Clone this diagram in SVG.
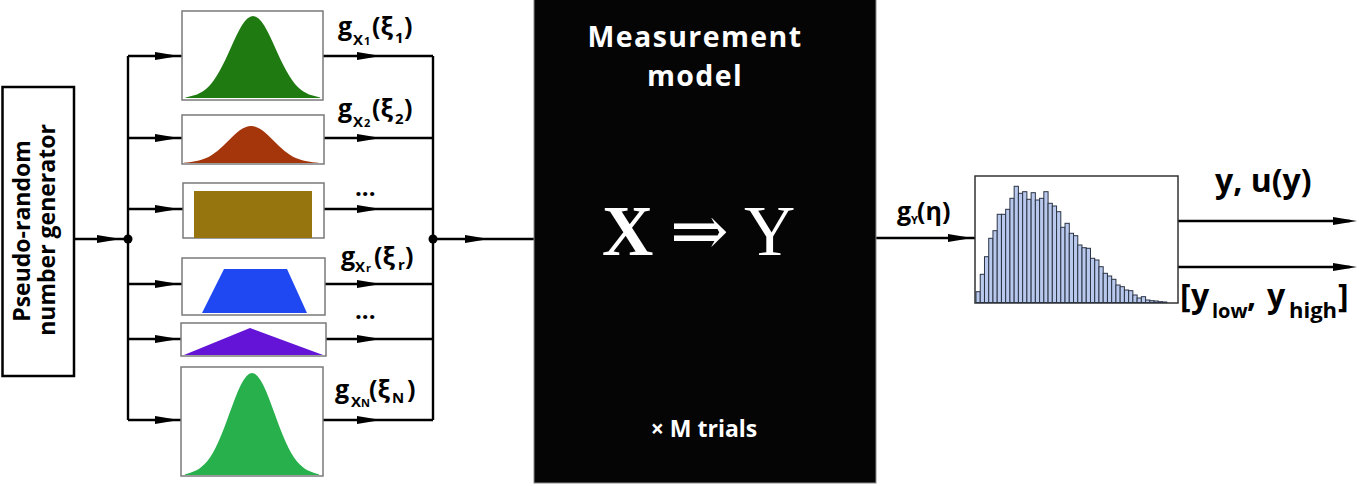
<svg xmlns="http://www.w3.org/2000/svg" xmlns:xlink="http://www.w3.org/1999/xlink" width="1359" height="486" viewBox="0 0 1359 486">
<style>
.ln{stroke:#000;stroke-width:2.4;fill:none}
.box{fill:#fff;stroke:#7a7a7a;stroke-width:1.5}
.t{font-family:"Open Sans","Liberation Sans",sans-serif;font-weight:bold;fill:#000}
.w{font-family:"Open Sans","Liberation Sans",sans-serif;font-weight:bold;fill:#fff}
.bar rect{fill:#b9c9ee;stroke:#2b3444;stroke-width:1}
</style>
<defs>
<path id="ah" d="M0,0 L-24,-4 L-24,4 Z" fill="#000"/>
<path id="bell" d="M-60,0 L-60,-0.6 L-55,-2.3 L-50,-4.4 L-47.5,-6 L-45,-8 L-42.5,-10.5 L-40,-13.5 L-37.5,-17.2 L-35,-21.6 L-32.5,-26.7 L-30,-32.5 L-27.5,-38.9 L-25,-45.8 L-22.5,-53.1 L-20,-60.7 L-17.5,-68.2 L-15,-75.5 L-12.5,-82.3 L-10,-88.3 L-7.5,-93.2 L-5,-96.9 L-2.5,-99.2 L0,-100 L2.5,-99.2 L5,-96.9 L7.5,-93.2 L10,-88.3 L12.5,-82.3 L15,-75.5 L17.5,-68.2 L20,-60.7 L22.5,-53.1 L25,-45.8 L27.5,-38.9 L30,-32.5 L32.5,-26.7 L35,-21.6 L37.5,-17.2 L40,-13.5 L42.5,-10.5 L45,-8 L47.5,-6 L50,-4.4 L55,-2.3 L60,-0.6 L60,0 Z"/>
</defs>

<g id="connectors">
<path class="ln" d="M74,239 H128"/>
<path class="ln" d="M128,56 V420"/>
<path class="ln" d="M128,56 H182 M128,138 H182 M128,209 H183 M128,284 H182 M128,339 H181 M128,420 H181"/>
<path class="ln" d="M323,56 H433 M324,138 H433 M324,209 H433 M325,284 H433 M326,339 H433 M323,420 H433"/>
<path class="ln" d="M433,56 V420"/>
<path class="ln" d="M433,239 H534"/>
<path class="ln" d="M876,238 H975"/>
<path class="ln" d="M1178,221 H1350 M1178,267 H1350"/>
<circle cx="128" cy="239" r="4.5"/>
<circle cx="433" cy="239" r="4.5"/>
<use xlink:href="#ah" transform="translate(121,239)"/>
<use xlink:href="#ah" transform="translate(179,56)"/>
<use xlink:href="#ah" transform="translate(179,138)"/>
<use xlink:href="#ah" transform="translate(179,209)"/>
<use xlink:href="#ah" transform="translate(179,284)"/>
<use xlink:href="#ah" transform="translate(179,339)"/>
<use xlink:href="#ah" transform="translate(179,420)"/>
<use xlink:href="#ah" transform="translate(381,56)"/>
<use xlink:href="#ah" transform="translate(381,138)"/>
<use xlink:href="#ah" transform="translate(381,209)"/>
<use xlink:href="#ah" transform="translate(381,284)"/>
<use xlink:href="#ah" transform="translate(381,339)"/>
<use xlink:href="#ah" transform="translate(381,420)"/>
<use xlink:href="#ah" transform="translate(489,239)"/>
<use xlink:href="#ah" transform="translate(972,238)"/>
<use xlink:href="#ah" transform="translate(1357,221)"/>
<use xlink:href="#ah" transform="translate(1357,267)"/>
</g>

<g id="generator">
<rect x="2.5" y="87" width="71.5" height="289" fill="#fff" stroke="#000" stroke-width="2.5"/>
<text class="t" font-size="23" text-anchor="middle" transform="translate(30,231) rotate(-90)">Pseudo-random</text>
<text class="t" font-size="23" text-anchor="middle" transform="translate(55,230) rotate(-90)">number generator</text>
</g>

<g id="dist1">
<rect class="box" x="182" y="11" width="141" height="89"/>
<use xlink:href="#bell" fill="#207a12" transform="translate(253,98) scale(1.12,0.82)"/>
</g>
<g id="dist2">
<rect class="box" x="182" y="115" width="142" height="49"/>
<use xlink:href="#bell" fill="#a5360c" transform="translate(251,163) scale(1.12,0.37)"/>
</g>
<g id="dist3">
<rect class="box" x="183" y="183" width="141" height="55"/>
<rect x="194" y="191" width="118" height="47" fill="#96750f"/>
</g>
<g id="dist4">
<rect class="box" x="182" y="258" width="143" height="57"/>
<path d="M224,269 H287 L307,313 H202 Z" fill="#1f48f2"/>
</g>
<g id="dist5">
<rect class="box" x="181" y="323" width="145" height="33"/>
<path d="M250,328 L323,355 H184 Z" fill="#6314d6"/>
</g>
<g id="dist6">
<rect class="box" x="181" y="367" width="142" height="109"/>
<use xlink:href="#bell" fill="#27b04c" transform="translate(252,475) scale(1.12,1.02)"/>
</g>

<g id="labels">
<text class="t"><tspan x="338" y="35" font-size="25">g</tspan><tspan x="353" y="45" font-size="15">X</tspan><tspan x="364" y="45" font-size="11">1</tspan><tspan x="372" y="35" font-size="25">(ξ</tspan><tspan x="395" y="43" font-size="15">1</tspan><tspan x="404" y="35" font-size="25">)</tspan></text>
<text class="t"><tspan x="338" y="117" font-size="25">g</tspan><tspan x="353" y="127" font-size="15">X</tspan><tspan x="364" y="127" font-size="11">2</tspan><tspan x="372" y="117" font-size="25">(ξ</tspan><tspan x="395" y="124" font-size="15">2</tspan><tspan x="404" y="117" font-size="25">)</tspan></text>
<text class="t" font-size="24" x="355" y="196">...</text>
<text class="t"><tspan x="341" y="265" font-size="25">g</tspan><tspan x="355" y="272" font-size="15">X</tspan><tspan x="366" y="272" font-size="11">r</tspan><tspan x="374" y="265" font-size="25">(ξ</tspan><tspan x="398" y="270" font-size="15">r</tspan><tspan x="405" y="265" font-size="25">)</tspan></text>
<text class="t" font-size="24" x="355" y="319">...</text>
<text class="t"><tspan x="335" y="398" font-size="25">g</tspan><tspan x="351" y="407" font-size="15">X</tspan><tspan x="361" y="407" font-size="11">N</tspan><tspan x="369" y="398" font-size="25">(ξ</tspan><tspan x="392" y="403" font-size="15">N</tspan><tspan x="407" y="398" font-size="25">)</tspan></text>
</g>

<g id="model">
<rect x="534" y="-2" width="342" height="485" fill="#050505" stroke="#8a8a8a" stroke-width="1"/>
<text class="w" font-size="28.5" letter-spacing="1.4" text-anchor="middle" x="695" y="47">Measurement</text>
<text class="w" font-size="28.5" letter-spacing="1.4" text-anchor="middle" x="695" y="86">model</text>
<text font-family="'Liberation Serif',serif" font-weight="bold" font-size="71" fill="#fff" x="602" y="255">X</text>
<text font-family="'DejaVu Serif',serif" font-size="70" fill="#fff" x="670" y="255">⇒</text>
<text font-family="'Liberation Serif',serif" font-size="71" fill="#fff" x="744" y="255">Y</text>
<text class="w" font-size="23" text-anchor="middle" x="704" y="437">× M trials</text>
</g>

<g id="histogram">
<text class="t"><tspan x="897" y="220" font-size="25">g</tspan><tspan x="911" y="224" font-size="11">Y</tspan><tspan x="917" y="220" font-size="25">(η)</tspan></text>
<rect x="975" y="176" width="203" height="127" fill="#fff" stroke="#333" stroke-width="1.5"/>
<g class="bar">
<rect x="976" y="291.7" width="4.24" height="10.8"/>
<rect x="980.24" y="274.3" width="4.24" height="28.2"/>
<rect x="984.48" y="256.7" width="4.24" height="45.8"/>
<rect x="988.72" y="238.3" width="4.24" height="64.2"/>
<rect x="992.96" y="230.7" width="4.24" height="71.8"/>
<rect x="997.2" y="214.3" width="4.24" height="88.2"/>
<rect x="1001.44" y="214.3" width="4.24" height="88.2"/>
<rect x="1005.68" y="209.3" width="4.24" height="93.2"/>
<rect x="1009.92" y="198.3" width="4.24" height="104.2"/>
<rect x="1014.16" y="186.3" width="4.24" height="116.2"/>
<rect x="1018.4" y="193.3" width="4.24" height="109.2"/>
<rect x="1022.64" y="191.7" width="4.24" height="110.8"/>
<rect x="1026.88" y="199.3" width="4.24" height="103.2"/>
<rect x="1031.12" y="192.7" width="4.24" height="109.8"/>
<rect x="1035.36" y="200" width="4.24" height="102.5"/>
<rect x="1039.6" y="198.3" width="4.24" height="104.2"/>
<rect x="1043.84" y="191.7" width="4.24" height="110.8"/>
<rect x="1048.08" y="203.3" width="4.24" height="99.2"/>
<rect x="1052.32" y="206" width="4.24" height="96.5"/>
<rect x="1056.56" y="211.7" width="4.24" height="90.8"/>
<rect x="1060.8" y="227.3" width="4.24" height="75.2"/>
<rect x="1065.04" y="223.3" width="4.24" height="79.2"/>
<rect x="1069.28" y="233.3" width="4.24" height="69.2"/>
<rect x="1073.52" y="235.7" width="4.24" height="66.8"/>
<rect x="1077.76" y="245" width="4.24" height="57.5"/>
<rect x="1082" y="247.7" width="4.24" height="54.8"/>
<rect x="1086.24" y="248.3" width="4.24" height="54.2"/>
<rect x="1090.48" y="258.3" width="4.24" height="44.2"/>
<rect x="1094.72" y="260" width="4.24" height="42.5"/>
<rect x="1098.96" y="266.7" width="4.24" height="35.8"/>
<rect x="1103.2" y="273.3" width="4.24" height="29.2"/>
<rect x="1107.44" y="276" width="4.24" height="26.5"/>
<rect x="1111.68" y="279.3" width="4.24" height="23.2"/>
<rect x="1115.92" y="285" width="4.24" height="17.5"/>
<rect x="1120.16" y="286.7" width="4.24" height="15.8"/>
<rect x="1124.4" y="290" width="4.24" height="12.5"/>
<rect x="1128.64" y="290.7" width="4.24" height="11.8"/>
<rect x="1132.88" y="295" width="4.24" height="7.5"/>
<rect x="1137.12" y="298" width="4.24" height="4.5"/>
<rect x="1141.36" y="296.7" width="4.24" height="5.8"/>
<rect x="1145.6" y="300" width="4.24" height="2.5"/>
<rect x="1149.84" y="300.7" width="4.24" height="1.8"/>
<rect x="1154.08" y="301" width="4.24" height="1.5"/>
<rect x="1158.32" y="301.7" width="4.24" height="0.8"/>
<rect x="1162.56" y="302" width="4.24" height="0.5"/>
</g>
</g>

<g id="outputs">
<text class="t" font-size="32" x="1215" y="192">y, u(y)</text>
<text class="t"><tspan x="1180" y="307" font-size="32">[</tspan><tspan x="1191" y="307" font-size="32">y</tspan><tspan x="1212" y="318" font-size="20">low</tspan><tspan x="1247" y="307" font-size="32">,</tspan><tspan x="1267" y="307" font-size="32">y</tspan><tspan x="1289" y="318" font-size="22">high</tspan><tspan x="1338" y="307" font-size="32">]</tspan></text>
</g>
</svg>
